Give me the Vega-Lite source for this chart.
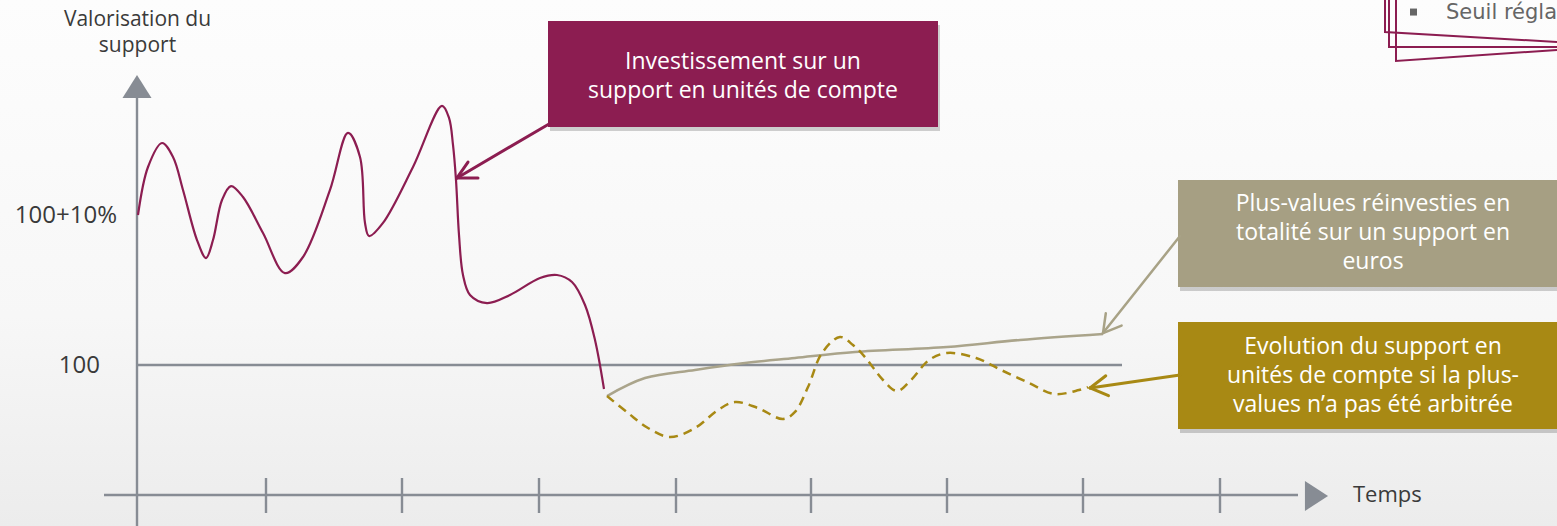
{
  "$schema": "https://vega.github.io/schema/vega-lite/v6.json",
  "width": 1557,
  "height": 526,
  "padding": 0,
  "autosize": {"type": "none"},
  "config": {"view": {"stroke": null}},
  "datasets": {
    "bg": [{"t": 0, "t2": 1557, "v": 89.2667, "v2": 124.3333}],
    "boxes": [
      {"box": "invest", "t": 548, "t2": 938, "v": 122.93, "v2": 115.87},
      {"box": "euros", "t": 1178, "t2": 1557, "v": 112.33, "v2": 105.2},
      {"box": "uc", "t": 1178, "t2": 1557, "v": 102.87, "v2": 95.73}
    ],
    "boxText": [
      {"txt": "Investissement sur un", "t": 743, "v": 120.2},
      {"txt": "support en unités de compte", "t": 743, "v": 118.27},
      {"txt": "Plus-values réinvesties en", "t": 1373, "v": 110.73},
      {"txt": "totalité sur un support en", "t": 1373, "v": 108.8},
      {"txt": "euros", "t": 1373, "v": 106.87},
      {"txt": "Evolution du support en", "t": 1373, "v": 101.2},
      {"txt": "unités de compte si la plus-", "t": 1373, "v": 99.27},
      {"txt": "values n’a pas été arbitrée", "t": 1373, "v": 97.33}
    ],
    "axes": [
      {"t": 137, "t2": 137, "v": 117.8, "v2": 89.2667},
      {"t": 104, "t2": 1298, "v": 91.333, "v2": 91.333},
      {"t": 137, "t2": 1122, "v": 100, "v2": 100},
      {"t": 266, "t2": 266, "v": 92.467, "v2": 90.133},
      {"t": 402, "t2": 402, "v": 92.467, "v2": 90.133},
      {"t": 539, "t2": 539, "v": 92.467, "v2": 90.133},
      {"t": 676, "t2": 676, "v": 92.467, "v2": 90.133},
      {"t": 811, "t2": 811, "v": 92.467, "v2": 90.133},
      {"t": 947, "t2": 947, "v": 92.467, "v2": 90.133},
      {"t": 1083, "t2": 1083, "v": 92.467, "v2": 90.133},
      {"t": 1220, "t2": 1220, "v": 92.467, "v2": 90.133}
    ],
    "triUp": [{"t": 137, "v": 118.57}],
    "triRight": [{"t": 1316.5, "v": 91.27}],
    "uc": [
      {"t": 138, "v": 110.0}, {"t": 148, "v": 113.2}, {"t": 162, "v": 114.8},
      {"t": 173, "v": 113.87}, {"t": 183, "v": 111.67}, {"t": 197, "v": 108.33},
      {"t": 206, "v": 107.13}, {"t": 213, "v": 108.33}, {"t": 222, "v": 111.0},
      {"t": 231, "v": 111.93}, {"t": 243, "v": 111.2}, {"t": 263, "v": 108.8},
      {"t": 285, "v": 106.13}, {"t": 303, "v": 107.2}, {"t": 330, "v": 111.67},
      {"t": 348, "v": 115.47}, {"t": 360, "v": 113.87}, {"t": 365, "v": 109.47},
      {"t": 369, "v": 108.6}, {"t": 383, "v": 109.47}, {"t": 413, "v": 113.2},
      {"t": 442, "v": 117.27}, {"t": 449, "v": 116.47}, {"t": 453, "v": 114.67},
      {"t": 456, "v": 112.33}, {"t": 459, "v": 108.67}, {"t": 463, "v": 106.0},
      {"t": 470, "v": 104.67}, {"t": 487, "v": 104.13}, {"t": 510, "v": 104.67},
      {"t": 540, "v": 105.8}, {"t": 557, "v": 106.0}, {"t": 572, "v": 105.53},
      {"t": 585, "v": 104.0}, {"t": 595, "v": 101.67}, {"t": 604, "v": 98.4}
    ],
    "euros": [
      {"t": 607, "v": 97.93}, {"t": 645, "v": 99.13}, {"t": 695, "v": 99.67},
      {"t": 745, "v": 100.13}, {"t": 795, "v": 100.47}, {"t": 855, "v": 100.87},
      {"t": 947, "v": 101.2}, {"t": 1020, "v": 101.67}, {"t": 1103, "v": 102.07}
    ],
    "ucNoArb": [
      {"t": 607, "v": 97.93}, {"t": 628, "v": 96.8}, {"t": 648, "v": 95.8},
      {"t": 670, "v": 95.2}, {"t": 695, "v": 95.8}, {"t": 718, "v": 97.0},
      {"t": 735, "v": 97.53}, {"t": 758, "v": 97.13}, {"t": 783, "v": 96.4},
      {"t": 795, "v": 96.87}, {"t": 808, "v": 98.53}, {"t": 822, "v": 100.8},
      {"t": 840, "v": 101.87}, {"t": 853, "v": 101.33}, {"t": 865, "v": 100.53},
      {"t": 883, "v": 99.0}, {"t": 897, "v": 98.27}, {"t": 911, "v": 99.0},
      {"t": 929, "v": 100.33}, {"t": 947, "v": 100.8}, {"t": 976, "v": 100.47},
      {"t": 1001, "v": 99.67}, {"t": 1029, "v": 98.8}, {"t": 1054, "v": 98.07},
      {"t": 1079, "v": 98.33}, {"t": 1088, "v": 98.53}
    ],
    "arrowInvest": [
      {"t": 549, "v": 116.07, "t2": 457, "v2": 112.47},
      {"t": 457, "v": 112.47, "t2": 468, "v2": 113.53},
      {"t": 457, "v": 112.47, "t2": 478, "v2": 112.47}
    ],
    "arrowEuros": [
      {"t": 1180, "v": 108.6, "t2": 1103, "v2": 102.13},
      {"t": 1103, "v": 102.13, "t2": 1121.6, "v2": 102.63},
      {"t": 1103, "v": 102.13, "t2": 1105.8, "v2": 103.45}
    ],
    "arrowUc": [
      {"t": 1180, "v": 99.33, "t2": 1090, "v2": 98.47},
      {"t": 1090, "v": 98.47, "t2": 1108.5, "v2": 97.96},
      {"t": 1090, "v": 98.47, "t2": 1105.8, "v2": 99.28}
    ],
    "titles": [
      {"txt": "Valorisation du", "t": 137.5, "v": 123.0},
      {"txt": "support", "t": 137.5, "v": 121.27}
    ],
    "temps": [{"txt": "Temps", "t": 1353, "v": 91.333}],
    "levels": [
      {"txt": "100+10%", "t": 117, "v": 109.93},
      {"txt": "100", "t": 100, "v": 99.93}
    ],
    "seuil": [{"txt": "Seuil réglable", "t": 1446, "v": 123.07}],
    "bullet": [{"t": 1413.5, "v": 123.53}],
    "frame": [
      {"g": "a", "i": 0, "t": 1385, "v": 124.3333},
      {"g": "a", "i": 1, "t": 1385, "v": 122.2},
      {"g": "a", "i": 2, "t": 1557, "v": 121.53},
      {"g": "b", "i": 0, "t": 1389, "v": 124.3333},
      {"g": "b", "i": 1, "t": 1389, "v": 121.2},
      {"g": "b", "i": 2, "t": 1557, "v": 121.2},
      {"g": "c", "i": 0, "t": 1396, "v": 124.3333},
      {"g": "c", "i": 1, "t": 1396, "v": 120.27},
      {"g": "c", "i": 2, "t": 1557, "v": 121.0}
    ]
  },
  "encoding": {
    "x": {"field": "t", "type": "quantitative", "scale": {"domain": [0, 1557], "nice": false, "zero": false}, "axis": null},
    "y": {"field": "v", "type": "quantitative", "scale": {"domain": [89.2667, 124.3333], "nice": false, "zero": false}, "axis": null}
  },
  "layer": [
    {
      "data": {"name": "bg"},
      "mark": {"type": "rect", "fill": {"gradient": "linear", "x1": 0, "y1": 0, "x2": 0, "y2": 1, "stops": [{"offset": 0, "color": "#fdfdfd"}, {"offset": 0.6, "color": "#f7f7f7"}, {"offset": 1, "color": "#ececec"}]}},
      "encoding": {"x2": {"field": "t2"}, "y2": {"field": "v2"}}
    },
    {
      "data": {"name": "boxes"},
      "mark": {"type": "rect", "color": "#000000", "opacity": 0.18, "xOffset": 2, "x2Offset": 2, "yOffset": 4, "y2Offset": 4},
      "encoding": {"x2": {"field": "t2"}, "y2": {"field": "v2"}}
    },
    {
      "data": {"name": "boxes"},
      "mark": {"type": "rect"},
      "encoding": {
        "x2": {"field": "t2"}, "y2": {"field": "v2"},
        "color": {"field": "box", "type": "nominal", "scale": {"domain": ["invest", "euros", "uc"], "range": ["#8c1d51", "#a69f83", "#a88914"]}, "legend": null}
      }
    },
    {
      "data": {"name": "boxText"},
      "mark": {"type": "text", "font": "Open Sans", "fontSize": 23, "color": "#ffffff", "align": "center", "baseline": "middle"},
      "encoding": {"text": {"field": "txt", "type": "nominal"}}
    },
    {
      "data": {"name": "axes"},
      "mark": {"type": "rule", "color": "#878c94", "strokeWidth": 2.4},
      "encoding": {"x2": {"field": "t2"}, "y2": {"field": "v2"}}
    },
    {
      "data": {"name": "triUp"},
      "mark": {"type": "point", "shape": "M0,-0.79L1,0.79L-1,0.79Z", "size": 841, "filled": true, "color": "#878c94", "opacity": 1, "strokeWidth": 0}
    },
    {
      "data": {"name": "triRight"},
      "mark": {"type": "point", "shape": "M-0.77,-1L0.77,0L-0.77,1Z", "size": 900, "filled": true, "color": "#878c94", "opacity": 1, "strokeWidth": 0}
    },
    {
      "data": {"name": "uc"},
      "mark": {"type": "line", "interpolate": "catmull-rom", "color": "#8c1d51", "strokeWidth": 2.2}
    },
    {
      "data": {"name": "euros"},
      "mark": {"type": "line", "interpolate": "catmull-rom", "color": "#aaa48b", "strokeWidth": 2.5}
    },
    {
      "data": {"name": "ucNoArb"},
      "mark": {"type": "line", "interpolate": "catmull-rom", "color": "#a88914", "strokeWidth": 2.5, "strokeDash": [9, 6]}
    },
    {
      "data": {"name": "arrowInvest"},
      "mark": {"type": "rule", "color": "#8c1d51", "strokeWidth": 3, "strokeCap": "round"},
      "encoding": {"x2": {"field": "t2"}, "y2": {"field": "v2"}}
    },
    {
      "data": {"name": "arrowEuros"},
      "mark": {"type": "rule", "color": "#a8a286", "strokeWidth": 2.5, "strokeCap": "round"},
      "encoding": {"x2": {"field": "t2"}, "y2": {"field": "v2"}}
    },
    {
      "data": {"name": "arrowUc"},
      "mark": {"type": "rule", "color": "#a88914", "strokeWidth": 3, "strokeCap": "round"},
      "encoding": {"x2": {"field": "t2"}, "y2": {"field": "v2"}}
    },
    {
      "data": {"name": "titles"},
      "mark": {"type": "text", "font": "Open Sans", "fontSize": 21, "color": "#3a3a3a", "align": "center", "baseline": "middle"},
      "encoding": {"text": {"field": "txt", "type": "nominal"}}
    },
    {
      "data": {"name": "temps"},
      "mark": {"type": "text", "font": "Open Sans", "fontSize": 22, "color": "#3a3a3a", "align": "left", "baseline": "middle"},
      "encoding": {"text": {"field": "txt", "type": "nominal"}}
    },
    {
      "data": {"name": "levels"},
      "mark": {"type": "text", "font": "Open Sans", "fontSize": 24, "color": "#3a3a3a", "align": "right", "baseline": "middle"},
      "encoding": {"text": {"field": "txt", "type": "nominal"}}
    },
    {
      "data": {"name": "seuil"},
      "mark": {"type": "text", "font": "DejaVu Sans", "fontSize": 21, "color": "#666666", "align": "left", "baseline": "alphabetic", "clip": true},
      "encoding": {"text": {"field": "txt", "type": "nominal"}}
    },
    {
      "data": {"name": "bullet"},
      "mark": {"type": "point", "shape": "square", "size": 49, "filled": true, "color": "#666666", "opacity": 1}
    },
    {
      "data": {"name": "frame"},
      "mark": {"type": "line", "color": "#8c1d51", "strokeWidth": 2},
      "encoding": {"detail": {"field": "g", "type": "nominal"}, "order": {"field": "i", "type": "quantitative"}}
    }
  ]
}
